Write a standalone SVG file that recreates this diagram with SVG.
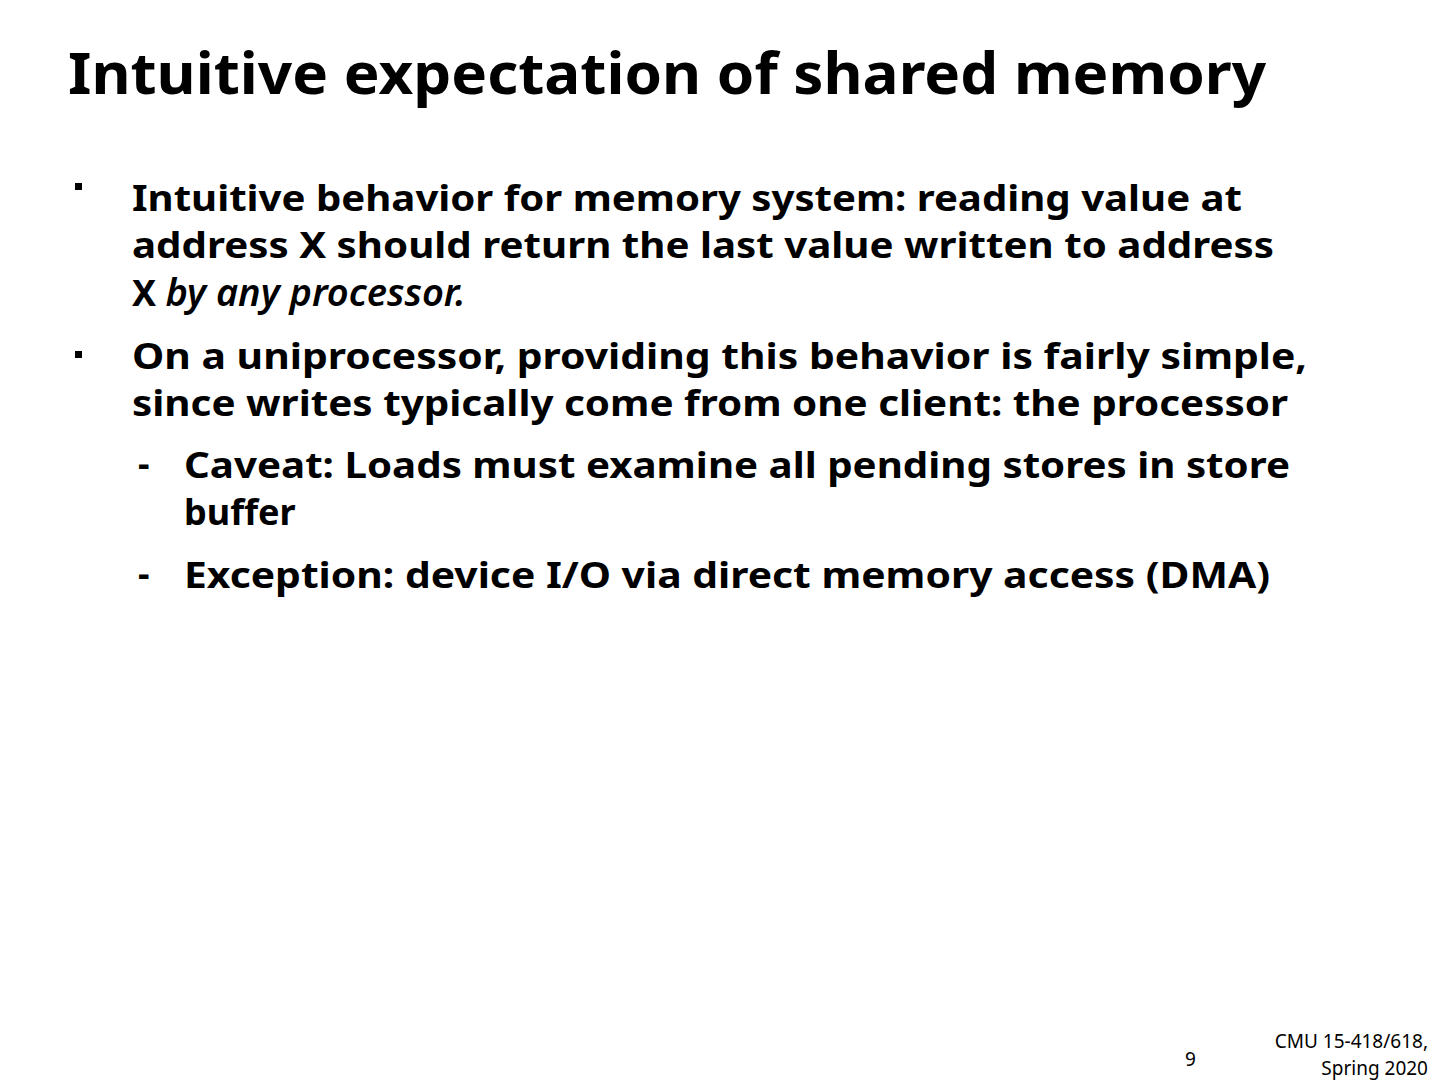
<svg xmlns="http://www.w3.org/2000/svg" width="1440" height="1080" viewBox="0 0 1440 1080">
<style>
text{font-family:"Noto Sans","Open Sans",sans-serif;font-weight:bold;fill:#000}
.b{font-size:36px}
.t{font-size:58px}
.s{font-size:19px;font-weight:normal}
</style>
<rect width="1440" height="1080" fill="#fff"/>
<text class="t" x="68" y="94" textLength="1198" lengthAdjust="spacingAndGlyphs">Intuitive expectation of shared memory</text>
<rect x="75" y="183" width="7" height="7"/>
<rect x="75" y="351" width="7" height="7"/>
<text class="b" x="132" y="211" textLength="1110" lengthAdjust="spacingAndGlyphs">Intuitive behavior for memory system: reading value at</text>
<text class="b" x="132" y="258" textLength="1142" lengthAdjust="spacingAndGlyphs">address X should return the last value written to address</text>
<text class="b" x="132" y="306">X <tspan font-style="italic" font-weight="600" font-size="38">by any processor.</tspan></text>
<text class="b" x="132" y="369" textLength="1175" lengthAdjust="spacingAndGlyphs">On a uniprocessor, providing this behavior is fairly simple,</text>
<text class="b" x="132" y="416" textLength="1156" lengthAdjust="spacingAndGlyphs">since writes typically come from one client: the processor</text>
<text class="b" x="138" y="476">-</text>
<text class="b" x="184" y="478" textLength="1106" lengthAdjust="spacingAndGlyphs">Caveat: Loads must examine all pending stores in store</text>
<text class="b" x="184" y="525">buffer</text>
<text class="b" x="138" y="586">-</text>
<text class="b" x="184" y="588" textLength="1086" lengthAdjust="spacingAndGlyphs">Exception: device I/O via direct memory access (DMA)</text>
<text class="s" x="1185" y="1066">9</text>
<text class="s" x="1428" y="1048" text-anchor="end">CMU 15-418/618,</text>
<text class="s" x="1428" y="1075" text-anchor="end">Spring 2020</text>
</svg>
